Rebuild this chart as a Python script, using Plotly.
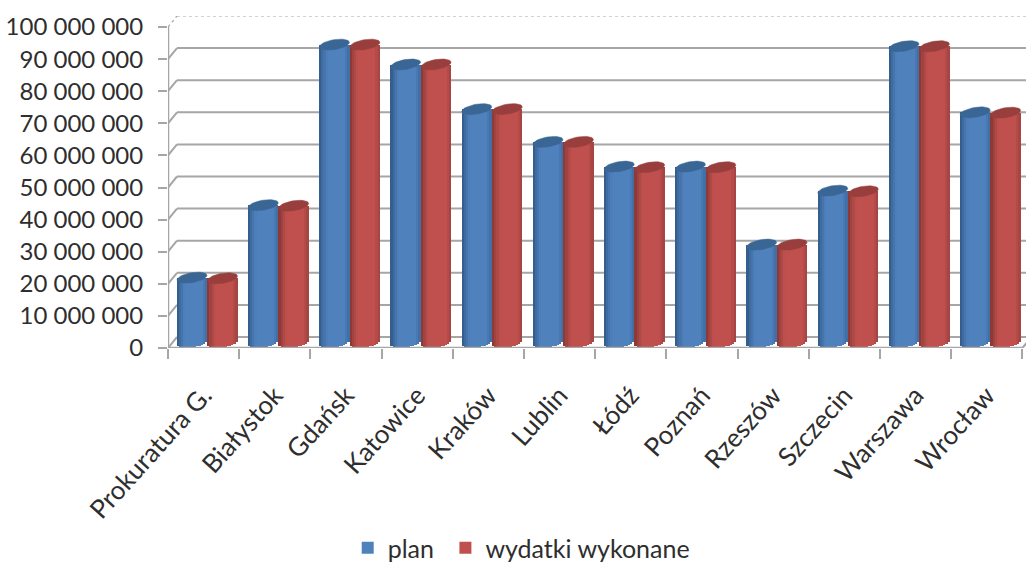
import numpy as np
import plotly.graph_objects as go

categories = ["Prokuratura G.", "Białystok", "Gdańsk", "Katowice", "Kraków", "Lublin",
              "Łódź", "Poznań", "Rzeszów", "Szczecin", "Warszawa", "Wrocław"]
plan = [20.2, 42.8, 92.8, 86.6, 72.7, 62.5, 54.8, 54.8, 30.5, 47.3, 92.3, 71.7]
wydatki = [20.0, 42.6, 92.8, 86.6, 72.7, 62.5, 54.6, 54.6, 30.5, 47.1, 92.3, 71.6]
tick_values = [0, 10, 20, 30, 40, 50, 60, 70, 80, 90, 100]
tick_labels = ["0", "10 000 000", "20 000 000", "30 000 000", "40 000 000", "50 000 000",
               "60 000 000", "70 000 000", "80 000 000", "90 000 000", "100 000 000"]
series_names = ["plan\u00a0", "wydatki wykonane"]

PX_X = 71.2          # pixels per category
PX_Y = 3.21          # pixels per million
LEFT, ZERO, TOP = 168, 348, 16
DEPTH_X, DEPTH_Y = 9 / PX_X, 11 / PX_Y
GRID = "#a6a6a6"

A, B, S = 15.0, 5.0, 0.15   # cylinder cap: half width, half height, shear (px)
BASE_PX = 5.5               # height of the cylinder centre above the front of the floor
N = 14


def shade(rgb_edge, rgb_mid, u):
    k = max(0.0, min(1.0, (1 - abs(2 * u - 1.1)) * 2.2))
    k = k ** 0.7
    return "rgb(%d,%d,%d)" % tuple(round(e + (m - e) * k) for e, m in zip(rgb_edge, rgb_mid))


def cylinder(values, offset, edge, mid, cap, name):
    xs, bases, heights, colors = [], [], [], []
    capx, capy = [], []
    t = np.linspace(0, 2 * np.pi, 40)
    for i, v in enumerate(values):
        cx = i + offset
        top = v + BASE_PX / PX_Y
        for j in range(N):
            u = (j + 0.5) / N
            dx = (2 * u - 1) * A
            low = BASE_PX + S * dx - B * np.sqrt(max(0, 1 - (dx / A) ** 2))
            xs.append(cx + dx / PX_X)
            bases.append(low / PX_Y)
            heights.append(top - low / PX_Y)
            colors.append(shade(edge, mid, u))
        px = A * np.cos(t)
        py = S * px + B * np.sin(t)
        capx += list(cx + px / PX_X) + [None]
        capy += list(top + py / PX_Y) + [None]
    bar = go.Bar(x=xs, y=heights, base=bases, width=(2 * A / N + 0.4) / PX_X,
                 marker=dict(color=colors, line=dict(width=0)), showlegend=False, hoverinfo="skip")
    lid = go.Scatter(x=capx, y=capy, mode="lines", fill="toself", fillcolor=cap,
                     line=dict(color=cap, width=0.5), showlegend=False, hoverinfo="skip")
    return [bar, lid]


fig = go.Figure()
fig.add_traces(cylinder(plan, 0.337, (52, 94, 142), (79, 129, 189), "#3a6696", series_names[0]))
fig.add_traces(cylinder(wydatki, 0.765, (140, 58, 56), (192, 80, 77), "#983f3d", series_names[1]))

n = len(categories)
x_end = (1026 - LEFT) / PX_X
y_end = (ZERO - TOP) / PX_Y

shapes = []
for v in tick_values:
    yb = v + DEPTH_Y
    top_line = v == 100
    style = dict(color=GRID, width=1.2 if top_line else 2, dash="dot" if top_line else "solid")
    shapes.append(dict(type="line", xref="x", yref="y", x0=0, x1=DEPTH_X, y0=v, y1=yb,
                       line=style, layer="below"))
    shapes.append(dict(type="line", xref="x", yref="y", x0=DEPTH_X, x1=x_end, y0=yb, y1=yb,
                       line=style, layer="below"))
shapes.append(dict(type="line", xref="x", yref="y", x0=n, x1=n + DEPTH_X, y0=0, y1=DEPTH_Y,
                   line=dict(color=GRID, width=2), layer="below"))

# front axis lines
fig.add_trace(go.Scatter(x=[0, 0], y=[0, 100], mode="lines", line=dict(color=GRID, width=2.5),
                         cliponaxis=False, showlegend=False, hoverinfo="skip"))
fig.add_trace(go.Scatter(x=[0, n], y=[0, 0], mode="lines", line=dict(color=GRID, width=2.5),
                         cliponaxis=False, showlegend=False, hoverinfo="skip"))

# legend entries
for name, col in zip(series_names, ["#4f81bd", "#c0504d"]):
    fig.add_trace(go.Scatter(x=[None], y=[None], mode="markers", name=name,
                             marker=dict(symbol="square", size=12, color=col)))

fig.update_layout(
    width=1026, height=565, barmode="overlay", bargap=0,
    paper_bgcolor="white", plot_bgcolor="white",
    margin=dict(l=LEFT, r=0, t=TOP, b=565 - ZERO, pad=0),
    font=dict(family="Lato", color="#2e2e2e"),
    shapes=shapes,
    legend=dict(orientation="h", xref="container", yref="container",
                x=0.508, xanchor="center", y=0.03, yanchor="middle",
                font=dict(size=25), bgcolor="rgba(0,0,0,0)", itemwidth=30),
    xaxis=dict(range=[0, x_end], tickmode="array", tickvals=[i + 0.5 for i in range(n)],
               ticktext=categories, tickangle=-48, ticks="", showgrid=False, zeroline=False,
               showline=False, automargin=False, tickfont=dict(size=26), ticklabelstandoff=26,
               minor=dict(tickmode="array", tickvals=list(range(n + 1)), ticks="outside",
                          ticklen=10, tickwidth=2, tickcolor=GRID, showgrid=False)),
    yaxis=dict(range=[0, y_end], tickmode="array", tickvals=tick_values, ticktext=tick_labels,
               ticks="outside", ticklen=9, tickwidth=2, tickcolor=GRID, showgrid=False,
               automargin=False, zeroline=False, showline=False, tickfont=dict(size=24),
               ticklabelstandoff=10),
)
fig.write_html("out.html", config=dict(displayModeBar=False),
               post_script="document.body.style.margin='0';document.body.style.overflow='hidden';")
